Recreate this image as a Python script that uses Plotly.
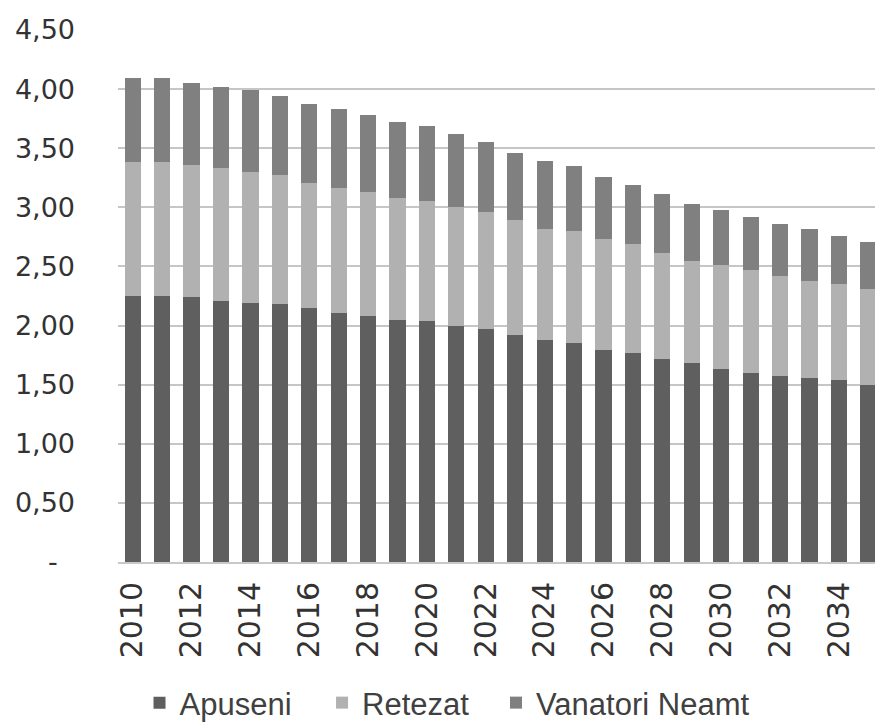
import plotly.graph_objects as go

years = list(range(2010, 2036))

apuseni = [2.25, 2.25, 2.24, 2.21, 2.19, 2.18, 2.15, 2.11, 2.08, 2.05, 2.04, 2.00, 1.97,
           1.92, 1.88, 1.85, 1.79, 1.77, 1.72, 1.68, 1.63, 1.60, 1.57, 1.56, 1.54, 1.50]
retezat = [1.13, 1.13, 1.12, 1.12, 1.11, 1.09, 1.06, 1.05, 1.05, 1.03, 1.01, 1.00, 0.99,
           0.97, 0.94, 0.95, 0.94, 0.92, 0.89, 0.87, 0.88, 0.87, 0.85, 0.82, 0.81, 0.81]
vanatori = [0.71, 0.71, 0.69, 0.69, 0.69, 0.67, 0.66, 0.67, 0.65, 0.64, 0.64, 0.62, 0.59,
            0.57, 0.57, 0.55, 0.53, 0.50, 0.50, 0.48, 0.47, 0.45, 0.44, 0.44, 0.41, 0.40]

series_names = ["Apuseni", "Retezat", "Vanatori Neamt"]
series_colors = ["#5f5f5f", "#b1b1b1", "#808080"]

x_tick_vals = list(range(2010, 2035, 2))
x_tick_text = [str(v) for v in x_tick_vals]
y_tick_vals = [0, 0.5, 1.0, 1.5, 2.0, 2.5, 3.0, 3.5, 4.0, 4.5]
y_tick_text = ["-\u00a0\u00a0", "0,50", "1,00", "1,50", "2,00", "2,50", "3,00", "3,50", "4,00", "4,50"]

legend_ids = ["legend", "legend2", "legend3"]
legend_x = [0.1503, 0.3589, 0.5577]

fig = go.Figure()
for name, vals, col, lid in zip(series_names, [apuseni, retezat, vanatori], series_colors, legend_ids):
    fig.add_trace(go.Bar(x=years, y=vals, name=name, legend=lid,
                         marker=dict(color=col, line=dict(width=0))))

legend_style = dict(orientation="h", xref="container", yref="paper",
                    xanchor="left", y=-0.2650, yanchor="middle",
                    font=dict(family="Liberation Sans", size=31, color="#404040"),
                    bgcolor="rgba(0,0,0,0)")

fig.update_layout(
    barmode="stack",
    bargap=0.45,
    width=875, height=716,
    margin=dict(l=110, r=0, t=22, b=162, autoexpand=False),
    paper_bgcolor="white", plot_bgcolor="white",
    font=dict(family="DejaVu Sans", color="#404040"),
    showlegend=True,
    legend=dict(x=legend_x[0], **legend_style),
    legend2=dict(x=legend_x[1], **legend_style),
    legend3=dict(x=legend_x[2], **legend_style),
)
fig.update_xaxes(range=[2009.5, 2035.5], tickmode="array", tickvals=x_tick_vals,
                 ticktext=x_tick_text, tickangle=-90, showgrid=False,
                 showline=True, linecolor="#c8c8c8", linewidth=2, ticks="",
                 tickfont=dict(family="DejaVu Sans", size=30, color="#333333"),
                 ticklabelstandoff=6, automargin=False)
fig.update_yaxes(range=[0, 4.5], tickmode="array", tickvals=y_tick_vals, ticktext=y_tick_text,
                 showgrid=True, gridcolor="#c6c6c6", gridwidth=2, zeroline=False,
                 tickfont=dict(family="DejaVu Sans", size=27, color="#333333"),
                 ticklabelstandoff=42, automargin=False)

fig.write_html("out.html")
